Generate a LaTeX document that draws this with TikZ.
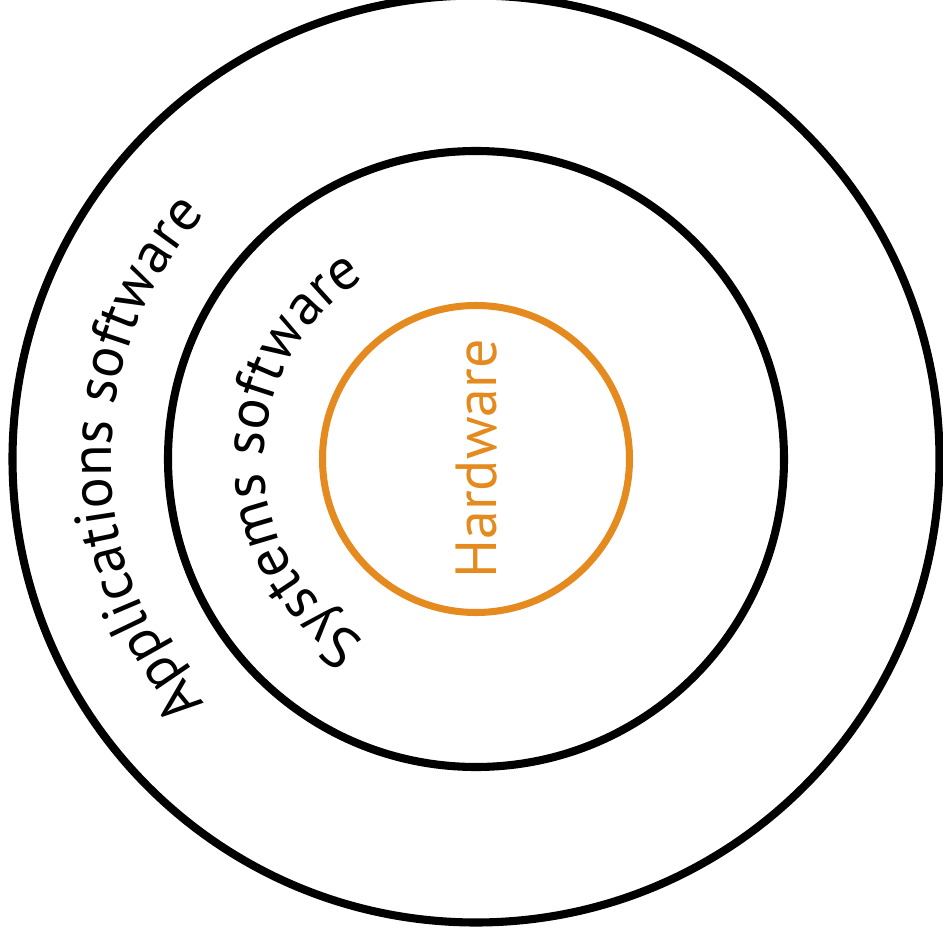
\documentclass[tikz,border=0pt]{standalone}
\usepackage{fontspec}
\setmainfont{PT Sans}
\usetikzlibrary{decorations.text}
\definecolor{hworange}{RGB}{228,138,30}
\newcommand{\ringfont}{\fontsize{16.5}{20}\selectfont}
\begin{document}
\begin{tikzpicture}[ring/.style={line width=2.3pt},
  ringtext/.style={decorate,decoration={text along path,text align=center,
    text format delimiters={|}{|},text={|\ringfont|#1}}}]
\useasboundingbox (0,0) rectangle (9.43,9.40);
\coordinate (c) at (4.76,4.81);
\draw[ring] (c) circle[radius=4.635];
\draw[ring] (c) circle[radius=3.08];
\draw[ring,hworange,line width=2pt] (c) circle[radius=1.535];
\path[ringtext=Applications software] (c) ++(270:3.65) arc[start angle=270,end angle=90,radius=3.65];
\path[ringtext=Systems software] (c) ++(270:2.12) arc[start angle=270,end angle=90,radius=2.12];
\node[rotate=90,anchor=base,text=hworange,font=\ringfont,inner sep=0pt] (hw) at ([xshift=0.21cm]c) {Hardware};
\end{tikzpicture}
\end{document}
